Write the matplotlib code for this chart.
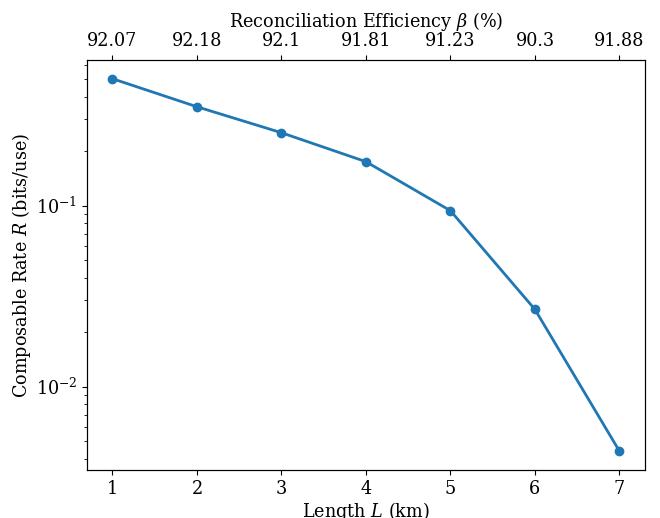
import matplotlib
matplotlib.use('Agg')
import matplotlib.pyplot as plt

plt.rcParams['font.family'] = 'DejaVu Serif'
plt.rcParams['mathtext.fontset'] = 'dejavuserif'
plt.rcParams['font.size'] = 12.7

length_km = [1, 2, 3, 4, 5, 6, 7]
rate = [0.503, 0.352, 0.253, 0.175, 0.0938, 0.0267, 0.00440]
beta_labels = ['92.07', '92.18', '92.1', '91.81', '91.23', '90.3', '91.88']

fig = plt.figure(figsize=(6.6, 5.18), dpi=100)
ax = fig.add_axes([0.132, 0.093, 0.845, 0.791])
ax.plot(length_km, rate, marker='o', color='#1f77b4', linewidth=2, markersize=6)
ax.set_yscale('log')
ax.set_xlabel('Length $L$ (km)', labelpad=2)
ax.set_ylabel('Composable Rate $R$ (bits/use)', labelpad=2)
ax.set_xticks(length_km)

ax2 = ax.twiny()
ax2.set_xlim(ax.get_xlim())
ax2.set_xticks(length_km)
ax2.set_xticklabels(beta_labels)
ax2.set_xlabel(r'Reconciliation Efficiency $\beta$ (%)')

fig.savefig('out.png')
